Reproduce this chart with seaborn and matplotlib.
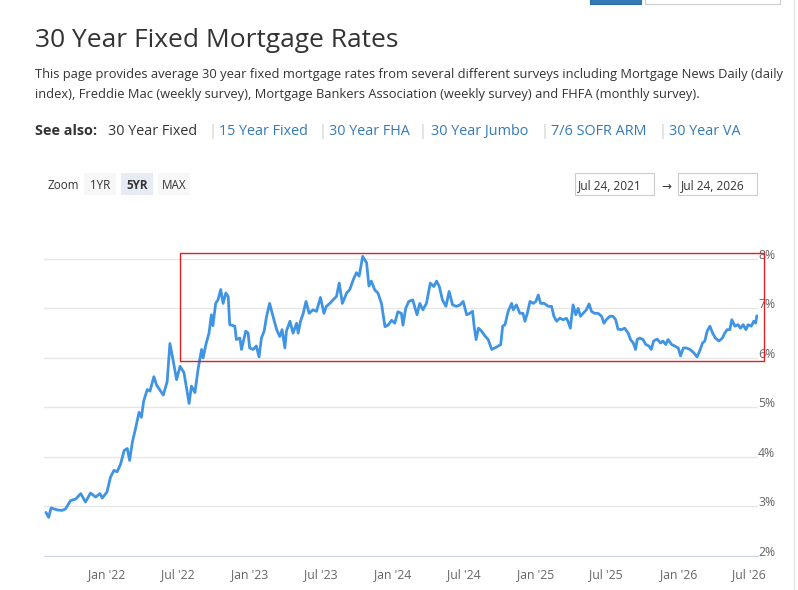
import matplotlib
matplotlib.use('Agg')
import matplotlib.pyplot as plt
import matplotlib.dates as mdates
from matplotlib.patches import Rectangle
from matplotlib.lines import Line2D
import pandas as pd
import seaborn as sns

# 30 year fixed rate (date, percent)
dates = [
    '2021-07-29', '2021-08-05', '2021-08-11', '2021-08-27', '2021-09-08', '2021-09-17', '2021-09-30',
    '2021-10-13', '2021-10-26', '2021-11-07', '2021-11-20', '2021-12-03', '2021-12-14', '2021-12-20',
    '2022-01-01', '2022-01-10', '2022-01-19', '2022-01-27', '2022-02-05', '2022-02-14', '2022-02-22',
    '2022-02-28', '2022-03-07', '2022-03-15', '2022-03-24', '2022-03-30', '2022-04-05', '2022-04-14',
    '2022-04-21', '2022-05-01', '2022-05-08', '2022-05-14', '2022-05-25', '2022-06-04', '2022-06-11',
    '2022-06-19', '2022-06-28', '2022-07-07', '2022-07-17', '2022-07-24', '2022-07-30', '2022-08-05',
    '2022-08-14', '2022-08-22', '2022-08-31', '2022-09-04', '2022-09-11', '2022-09-19', '2022-09-25',
    '2022-09-29', '2022-10-06', '2022-10-12', '2022-10-19', '2022-10-25', '2022-11-01', '2022-11-07',
    '2022-11-11', '2022-11-24', '2022-11-28', '2022-12-07', '2022-12-11', '2022-12-22', '2022-12-28',
    '2023-01-01', '2023-01-10', '2023-01-18', '2023-01-25', '2023-01-31', '2023-02-07', '2023-02-13',
    '2023-02-21', '2023-03-02', '2023-03-11', '2023-03-19', '2023-03-25', '2023-04-01', '2023-04-05',
    '2023-04-14', '2023-04-22', '2023-05-01', '2023-05-05', '2023-05-11', '2023-05-18', '2023-05-25',
    '2023-06-02', '2023-06-12', '2023-06-21', '2023-07-01', '2023-07-10', '2023-07-16', '2023-07-25',
    '2023-08-02', '2023-08-11', '2023-08-18', '2023-08-26', '2023-09-06', '2023-09-14', '2023-09-23',
    '2023-10-01', '2023-10-08', '2023-10-17', '2023-10-27', '2023-11-02', '2023-11-08', '2023-11-17',
    '2023-11-25', '2023-12-04', '2023-12-13', '2023-12-21', '2023-12-30',
    '2024-01-07', '2024-01-15', '2024-01-24', '2024-01-28', '2024-02-04', '2024-02-12', '2024-02-22',
    '2024-03-04', '2024-03-11', '2024-03-19', '2024-03-28', '2024-04-07', '2024-04-16', '2024-04-23',
    '2024-04-30', '2024-05-08', '2024-05-17', '2024-05-25', '2024-06-03', '2024-06-13', '2024-06-22',
    '2024-06-30', '2024-07-09', '2024-07-17', '2024-07-24', '2024-07-28', '2024-08-02', '2024-08-08',
    '2024-08-16', '2024-08-25', '2024-09-02', '2024-09-11', '2024-09-19', '2024-09-28', '2024-10-04',
    '2024-10-09', '2024-10-15', '2024-10-23', '2024-11-01', '2024-11-05', '2024-11-13', '2024-11-22',
    '2024-11-30', '2024-12-05', '2024-12-11', '2024-12-18', '2024-12-26',
    '2025-01-02', '2025-01-08', '2025-01-14', '2025-01-23', '2025-02-03', '2025-02-11', '2025-02-17',
    '2025-02-24', '2025-03-04', '2025-03-13', '2025-03-21', '2025-03-25', '2025-03-31', '2025-04-07',
    '2025-04-14', '2025-04-20', '2025-04-26', '2025-05-03', '2025-05-11', '2025-05-18', '2025-05-24',
    '2025-06-01', '2025-06-10', '2025-06-19', '2025-06-25', '2025-07-01', '2025-07-10', '2025-07-18',
    '2025-07-25', '2025-07-31', '2025-08-09', '2025-08-17', '2025-08-26', '2025-09-01', '2025-09-08',
    '2025-09-14', '2025-09-18', '2025-09-25', '2025-10-03', '2025-10-10', '2025-10-18', '2025-10-24',
    '2025-10-30', '2025-11-08', '2025-11-17', '2025-11-23', '2025-11-30', '2025-12-06', '2025-12-15',
    '2025-12-23',
    '2026-01-01', '2026-01-07', '2026-01-14', '2026-01-22', '2026-01-31', '2026-02-10', '2026-02-18',
    '2026-02-25', '2026-03-04', '2026-03-10', '2026-03-16', '2026-03-23', '2026-03-30', '2026-04-06',
    '2026-04-15', '2026-04-24', '2026-04-30', '2026-05-06', '2026-05-13', '2026-05-18', '2026-05-26',
    '2026-06-03', '2026-06-09', '2026-06-16', '2026-06-23', '2026-06-29', '2026-07-07', '2026-07-13',
    '2026-07-18', '2026-07-21',
]
rates = [
    2.88, 2.78, 2.97, 2.93, 2.92, 2.95, 3.12,
    3.15, 3.26, 3.09, 3.27, 3.19, 3.26, 3.17,
    3.29, 3.59, 3.73, 3.70, 3.86, 4.13, 4.17,
    3.93, 4.30, 4.57, 4.90, 4.80, 5.13, 5.36,
    5.33, 5.62, 5.45, 5.38, 5.25, 5.52, 6.29,
    5.96, 5.56, 5.83, 5.70, 5.36, 5.08, 5.43,
    5.30, 5.77, 6.17, 6.00, 6.27, 6.50, 6.87,
    6.65, 7.10, 7.17, 7.38, 7.10, 7.31, 7.24,
    6.67, 6.64, 6.37, 6.40, 6.17, 6.54, 6.50,
    6.20, 6.17, 6.24, 6.02, 6.40, 6.54, 6.83,
    7.10, 6.83, 6.57, 6.43, 6.57, 6.20, 6.54,
    6.74, 6.50, 6.70, 6.50, 6.74, 6.90, 7.14,
    6.90, 6.97, 6.94, 7.22, 6.90, 7.04, 7.10,
    7.17, 7.24, 7.51, 7.10, 7.31, 7.38, 7.58,
    7.72, 7.65, 8.05, 7.92, 7.45, 7.55, 7.37,
    7.31, 7.10, 6.63, 6.66, 6.76,
    6.70, 6.93, 6.90, 6.66, 7.00, 7.14, 7.17,
    6.87, 7.10, 6.97, 7.10, 7.51, 7.44, 7.55,
    7.44, 7.17, 7.04, 7.34, 7.07, 7.04, 7.07,
    7.14, 6.87, 6.90, 6.94, 6.64, 6.37, 6.60,
    6.54, 6.44, 6.37, 6.17, 6.20, 6.24, 6.27,
    6.64, 6.67, 6.94, 7.10, 6.97, 7.07, 6.90,
    6.90, 6.74, 6.90, 7.14, 7.10,
    7.14, 7.27, 7.10, 7.10, 7.04, 7.04, 6.84,
    6.74, 6.80, 6.77, 6.80, 6.74, 6.60, 7.07,
    6.87, 7.00, 6.84, 6.90, 6.97, 7.09, 6.94,
    6.90, 6.90, 6.84, 6.70, 6.77, 6.84, 6.84,
    6.77, 6.58, 6.57, 6.60, 6.50, 6.37, 6.30,
    6.17, 6.37, 6.40, 6.37, 6.27, 6.24, 6.17,
    6.34, 6.38, 6.30, 6.34, 6.27, 6.37, 6.27,
    6.24,
    6.20, 6.04, 6.20, 6.20, 6.17, 6.10, 6.02,
    6.14, 6.30, 6.34, 6.54, 6.64, 6.50, 6.40,
    6.34, 6.40, 6.50, 6.57, 6.57, 6.77, 6.64,
    6.67, 6.60, 6.67, 6.57, 6.67, 6.64, 6.74,
    6.70, 6.85,
]
y_ticks = [2, 3, 4, 5, 6, 7, 8]
see_also = ['30 Year Fixed', '15 Year Fixed', '30 Year FHA', '30 Year Jumbo', '7/6 SOFR ARM', '30 Year VA']
zoom_buttons = ['1YR', '5YR', 'MAX']
date_range = ['Jul 24, 2021', 'Jul 24, 2026']

sns.set_style('white')
plt.rcParams['font.family'] = ['Open Sans', 'DejaVu Sans']

W, H = 798, 590
fig = plt.figure(figsize=(W / 100, H / 100), dpi=100)
fig.patch.set_facecolor('white')


def fx(x):
    return x / W


def fy(y):
    return 1 - y / H


# header texts
fig.text(fx(35), fy(47), '30 Year Fixed Mortgage Rates', fontsize=19, color='#333333', va='baseline')
fig.text(fx(35), fy(78), 'This page provides average 30 year fixed mortgage rates from several different surveys '
         'including Mortgage News Daily (daily', fontsize=9.3, color='#333333', va='baseline')
fig.text(fx(35), fy(98), 'index), Freddie Mac (weekly survey), Mortgage Bankers Association (weekly survey) '
         'and FHFA (monthly survey).', fontsize=9.3, color='#333333', va='baseline')

fig.text(fx(35), fy(135), 'See also:', fontsize=10.4, color='#333333', fontweight='bold', va='baseline')
link_x = [108, 219, 329, 431, 551, 669]
bar_x = [209, 318, 419, 540, 658]
for i, (name, x) in enumerate(zip(see_also, link_x)):
    fig.text(fx(x), fy(135), name, fontsize=10.4, color='#333333' if i == 0 else '#337ab7', va='baseline')
for x in bar_x:
    fig.text(fx(x), fy(135), '|', fontsize=10.4, color='#cccccc', va='baseline')

# zoom buttons
fig.text(fx(47), fy(189), 'Zoom', fontsize=8.4, color='#333333', va='baseline')
btn_x = [(84, 116), (121, 153), (158, 190)]
for label, (x0, x1) in zip(zoom_buttons, btn_x):
    sel = label == '5YR'
    fig.add_artist(Rectangle((fx(x0), fy(195)), (x1 - x0) / W, 22 / H, transform=fig.transFigure,
                             facecolor='#e6ebf5' if sel else '#f7f7f7', edgecolor='none'))
    fig.text(fx((x0 + x1) / 2), fy(189), label, fontsize=8.4, color='#333333', ha='center', va='baseline',
             fontweight='bold' if sel else 'normal')

# date range inputs
for label, (x0, x1) in zip(date_range, [(575, 654), (678, 757)]):
    fig.add_artist(Rectangle((fx(x0), fy(195)), (x1 - x0) / W, 22 / H, transform=fig.transFigure,
                             facecolor='white', edgecolor='#cccccc', linewidth=0.8))
    fig.text(fx(x0 + 3), fy(189), label, fontsize=8.6, color='#333333', va='baseline')
fig.text(fx(666), fy(186), '\u2192', fontsize=8.6, color='#333333', ha='center', va='center')

# bits of the page around the chart
fig.add_artist(Rectangle((fx(590), fy(4)), 51 / W, 12 / H, transform=fig.transFigure,
                         facecolor='#337ab7', edgecolor='#2e6da4', linewidth=0.8))
fig.add_artist(Rectangle((fx(645), fy(4)), 135 / W, 12 / H, transform=fig.transFigure,
                         facecolor='white', edgecolor='#cccccc', linewidth=0.8))
fig.add_artist(Line2D([fx(794), fx(794)], [0, 1], transform=fig.transFigure, color='#e3e3e3', linewidth=1))

# chart
ax = fig.add_axes([fx(44), fy(556), 714 / W, 317 / H])
df = pd.DataFrame({'date': pd.to_datetime(dates), 'rate': rates})
sns.lineplot(data=df, x='date', y='rate', ax=ax, color='#3f94e4', linewidth=2)

ax.set_xlim(pd.Timestamp('2021-07-24'), pd.Timestamp('2026-07-24'))
ax.set_ylim(2, 8.4)
ax.set_yticks(y_ticks)
ax.set_yticklabels([f'{v}%' for v in y_ticks])
ax.yaxis.tick_right()
plt.setp(ax.get_yticklabels(), va='baseline')
ax.tick_params(axis='y', length=0, pad=0, labelsize=8.8, labelcolor='#666666')
ax.grid(axis='y', color='#e6e6e6', linewidth=1)
ax.xaxis.set_major_locator(mdates.MonthLocator(bymonth=[1, 7]))
ax.xaxis.set_major_formatter(mdates.DateFormatter("%b '%y"))
ax.tick_params(axis='x', length=7, width=1, color='#ccd6eb', labelsize=8.8, labelcolor='#666666', pad=2)
for s in ['top', 'right', 'left']:
    ax.spines[s].set_visible(False)
ax.spines['bottom'].set_color('#ccd6eb')
ax.set_xlabel('')
ax.set_ylabel('')

# red highlight box
fig.add_artist(Rectangle((fx(180), fy(361)), 584 / W, 108 / H, transform=fig.transFigure,
                         fill=False, edgecolor='#e02020', linewidth=1))

plt.savefig('out.png', dpi=100)
plt.close()
